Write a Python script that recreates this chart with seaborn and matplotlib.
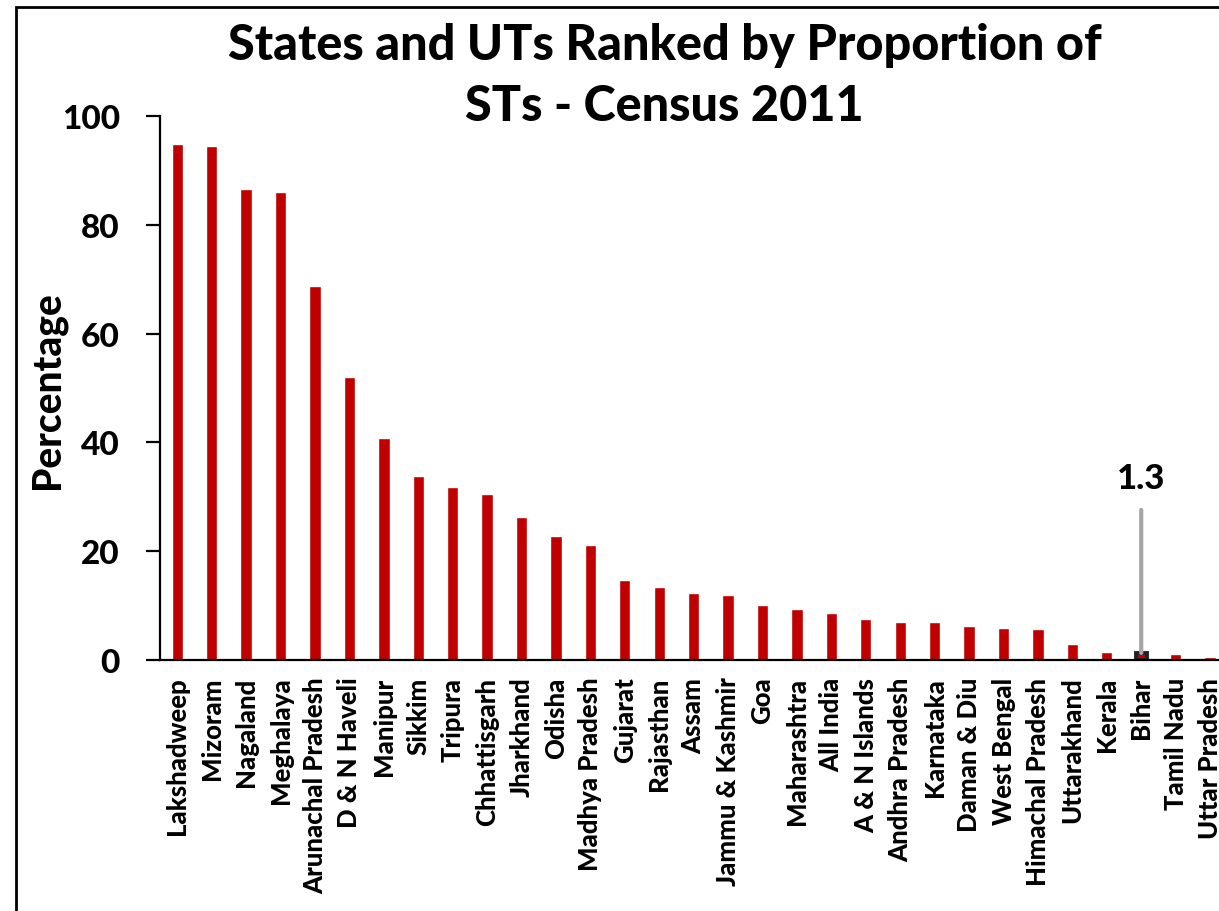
import numpy as np
import pandas as pd
import seaborn as sns
import matplotlib
matplotlib.use('Agg')
import matplotlib.pyplot as plt
from matplotlib.patches import Rectangle

# states / UTs, ranked by ST share (census 2011)
states = ['Lakshadweep', 'Mizoram', 'Nagaland', 'Meghalaya', 'Arunachal Pradesh',
          'D & N Haveli', 'Manipur', 'Sikkim', 'Tripura', 'Chhattisgarh',
          'Jharkhand', 'Odisha', 'Madhya Pradesh', 'Gujarat', 'Rajasthan',
          'Assam', 'Jammu & Kashmir', 'Goa', 'Maharashtra', 'All India',
          'A & N Islands', 'Andhra Pradesh', 'Karnataka', 'Daman & Diu',
          'West Bengal', 'Himachal Pradesh', 'Uttarakhand', 'Kerala', 'Bihar',
          'Tamil Nadu', 'Uttar Pradesh']
pct = [94.8, 94.4, 86.5, 86.1, 68.8, 52.0, 40.9, 33.8, 31.8, 30.6,
       26.2, 22.8, 21.1, 14.8, 13.5, 12.4, 11.9, 10.2, 9.4, 8.6,
       7.5, 7.0, 7.0, 6.3, 5.8, 5.7, 2.9, 1.5, 1.3, 1.1, 0.6]
highlight = 'Bihar'

df = pd.DataFrame({'State': states, 'Percentage': pct})

sns.set_style('white')
plt.rcParams['font.family'] = ['Lato', 'DejaVu Sans']
plt.rcParams['text.color'] = 'black'
plt.rcParams['xtick.color'] = 'black'
plt.rcParams['ytick.color'] = 'black'
W = 'black'   # heaviest weight

fig = plt.figure(figsize=(12.19, 9.12), dpi=100)
ax = fig.add_axes([0.1313, 0.2752, 0.8755, 0.5965])

sns.barplot(data=df, x='State', y='Percentage', color='#C00000', width=0.33,
            saturation=1, ax=ax)

ax.set_xlim(-0.5, len(states) - 0.5)
ax.set_ylim(0, 100)
ax.set_yticks([0, 20, 40, 60, 80, 100])
ax.set_xlabel('')
ax.set_ylabel('')
sns.despine(ax=ax)
for s in ['left', 'bottom']:
    ax.spines[s].set_linewidth(1.6)
    ax.spines[s].set_color('black')

ax.tick_params(axis='y', direction='out', length=10, width=1.6, pad=19,
               labelsize=24, left=True)
ax.tick_params(axis='x', length=0, pad=12, labelsize=18.5)
plt.setp(ax.get_xticklabels(), rotation=90, fontweight=W)
plt.setp(ax.get_yticklabels(), fontweight=W)

# highlight bihar
bi = states.index(highlight)
ax.patches[bi].set_edgecolor('#222222')
ax.patches[bi].set_linewidth(2.8)
ax.annotate(f'{pct[bi]}', xy=(bi, pct[bi]), xytext=(bi, 30.5),
            ha='center', va='bottom', fontsize=25, fontweight=W,
            arrowprops=dict(arrowstyle='-', color='#A6A6A6', lw=3,
                            shrinkA=9, shrinkB=0))

fig.text(0.545, 0.9167, 'States and UTs Ranked by Proportion of\nSTs - Census 2011',
         ha='center', va='center', fontsize=35, fontweight=W,
         linespacing=1.42)
fig.text(0.039, 0.572, 'Percentage', rotation=90, ha='center', va='center',
         fontsize=28, fontweight=W)

# chart border (cropped on right and bottom)
fig.patches.append(Rectangle((0.0131, -0.1), 1.2, 1.0912,
                             transform=fig.transFigure, fill=False,
                             edgecolor='black', linewidth=2))

fig.savefig('out.png', dpi=100)
